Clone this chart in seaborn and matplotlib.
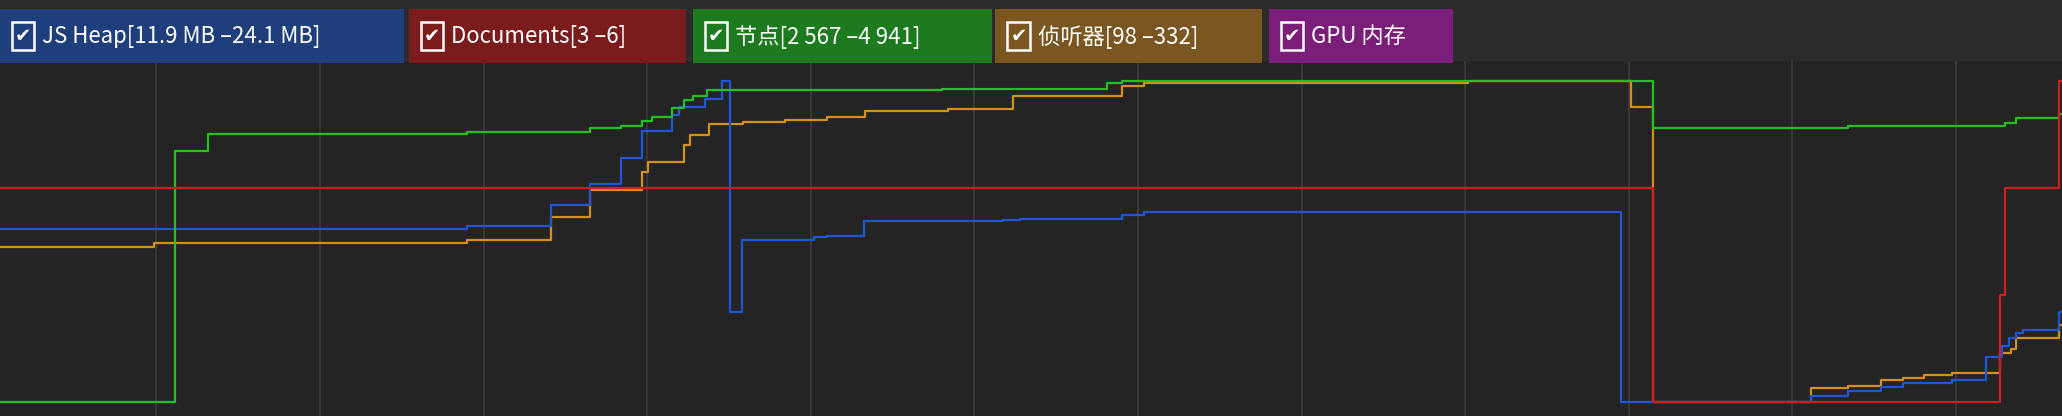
import numpy as np
import pandas as pd
import matplotlib
matplotlib.use('Agg')
import matplotlib.pyplot as plt
import seaborn as sns
from matplotlib.patches import Rectangle

heap_t = [0, 355, 419, 449, 472, 488, 511, 516, 536, 549, 555, 564, 619, 629, 657, 763, 776, 853, 870, 1233, 1377, 1405, 1430, 1447, 1484, 1510, 1522, 1528, 1533, 1538, 1566, 1568]
heap_v = [174, 171.7, 155.7, 140, 119.8, 99.5, 87.4, 81.5, 75.5, 61.3, 237, 182, 180.3, 179, 168, 167, 166, 163, 161, 305.6, 301, 296.8, 293.7, 291, 288.7, 271, 263, 257, 253, 251, 237, 237]

docs_t = [0, 1257, 1521, 1525, 1566, 1568]
docs_v = [143, 305.6, 224, 143, 61.3, 61.3]

nodes_t = [0, 133, 158, 355, 449, 472, 488, 496, 511, 520, 527, 538, 716, 842, 853, 1257, 1405, 1525, 1533, 1566, 1568]
nodes_v = [305.6, 114.5, 101.5, 100, 97, 95.5, 91.7, 88.6, 82.3, 76, 73, 68.4, 67.3, 62.8, 61.3, 97, 95.7, 93.7, 90, 86.9, 86.9]

listen_t = [0, 117, 355, 419, 449, 488, 493, 520, 525, 539, 565, 597, 629, 658, 721, 770, 853, 870, 1116, 1240, 1257, 1377, 1405, 1430, 1447, 1463, 1484, 1521, 1529, 1533, 1566, 1568]
listen_v = [187.4, 184.3, 182.3, 164.6, 144.3, 130.4, 122.8, 110, 102.5, 94.4, 93, 91, 88.6, 84, 82.5, 73, 65.3, 62.8, 61.3, 81.5, 305.6, 295, 293, 289, 287.4, 285, 283.6, 268, 265, 257, 247, 247]

labels = ['JS Heap[11.9 MB –24.1 MB]', 'Documents[3 –6]', '节点[2 567 –4 941]', '侦听器[98 –332]', 'GPU 内存']
box_colors = ['#1f3f7c', '#7a1c1c', '#1e7a1e', '#7a5620', '#7a1e7a']
box_x = [(0, 307), (311, 522), (527, 754), (757, 960), (965, 1105)]
line_colors = {'heap': '#1f56d6', 'docs': '#cc1f1f', 'nodes': '#22c022', 'listen': '#d4901a'}

frames = []
for name, t, v in [('listen', listen_t, listen_v), ('heap', heap_t, heap_v),
                   ('nodes', nodes_t, nodes_v), ('docs', docs_t, docs_v)]:
    frames.append(pd.DataFrame({'t': t, 'v': v, 's': name}))
df = pd.concat(frames, ignore_index=True)

W, H = 1568, 316
fig = plt.figure(figsize=(20.62, 4.16), dpi=100, facecolor='#2b2b2b')
ax = fig.add_axes([0, 0, 1, (H - 46) / H])
ax.set_facecolor('#242424')

sns.lineplot(data=df, x='t', y='v', hue='s', palette=line_colors, drawstyle='steps-post',
             estimator=None, sort=False, linewidth=1.6, legend=False, ax=ax)

ax.set_xlim(0, W)
ax.set_ylim(H, 46)
ax.set_xticks(119 + 124.4 * np.arange(12))
ax.set_yticks([])
ax.grid(axis='x', color='#3c3c3c', linewidth=1.2)
ax.set_axisbelow(True)
ax.tick_params(length=0, labelbottom=False)
ax.set_xlabel('')
ax.set_ylabel('')
for s in ax.spines.values():
    s.set_visible(False)

# legend chips along the top
for lab, c, (x0, x1) in zip(labels, box_colors, box_x):
    fig.add_artist(Rectangle((x0 / W, 1 - 48 / H), (x1 - x0) / W, 41 / H,
                             transform=fig.transFigure, facecolor=c, edgecolor='none'))
    fig.add_artist(Rectangle(((x0 + 9) / W, 1 - 38 / H), 17 / W, 21 / H,
                             transform=fig.transFigure, facecolor='none',
                             edgecolor='white', linewidth=1.8))
    fig.text((x0 + 17.5) / W, 1 - 27.5 / H, '✔', color='white', fontsize=14,
             ha='center', va='center', family=['DejaVu Sans'])
    fig.text((x0 + 32) / W, 1 - 28 / H, lab, color='white', fontsize=16,
             ha='left', va='center', family=['Noto Sans CJK SC', 'DejaVu Sans'])

fig.savefig('out.png', dpi=100, facecolor=fig.get_facecolor())
